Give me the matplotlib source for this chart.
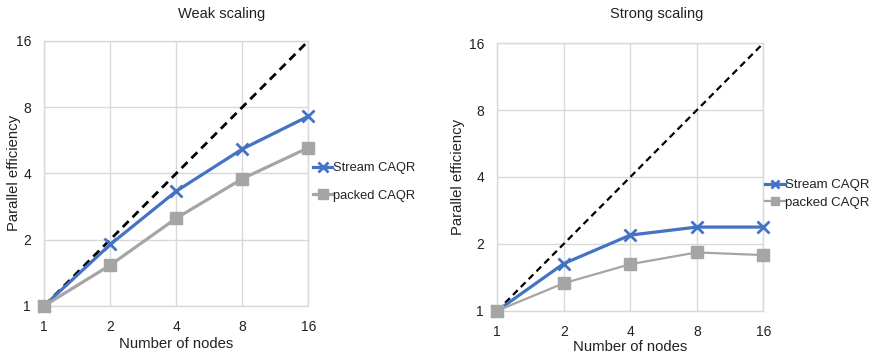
import matplotlib
matplotlib.use("Agg")
import matplotlib.pyplot as plt
from matplotlib.ticker import FixedLocator, NullLocator

plt.rcParams['font.family'] = ['Liberation Sans', 'DejaVu Sans']

nodes = [1, 2, 4, 8, 16]
ideal = [1, 2, 4, 8, 16]
weak_stream = [1.0, 1.9, 3.32, 5.16, 7.27]
weak_packed = [1.0, 1.53, 2.5, 3.78, 5.23]
strong_stream = [1.0, 1.63, 2.19, 2.38, 2.38]
strong_packed = [1.0, 1.33, 1.62, 1.83, 1.78]
tick_vals = [1, 2, 4, 8, 16]
tick_labels = ['1', '2', '4', '8', '16']
titles = ['Weak scaling', 'Strong scaling']
series_names = ['Stream CAQR', 'packed CAQR']

W, H = 871, 356
fig = plt.figure(figsize=(W / 100, H / 100), dpi=100)

BLUE = '#4472C4'
GRAY = '#A5A5A5'
GRID = '#D9D9D9'
TXT = '#222222'

def px_axes(x0, y0, x1, y1):
    return fig.add_axes([x0 / W, 1 - y1 / H, (x1 - x0) / W, (y1 - y0) / H])

specs = [
    dict(rect=(44.3, 41.0, 308.3, 305.7), stream=weak_stream, packed=weak_packed,
         lw_s=2.3, lw_p=2.3, ms=9, title_x=222, leg=(313, 182), ylab_x=13.5, xlab_y=344,
         dash_lw=2.0, leg_fs=9.3, leg_sp=1.2),
    dict(rect=(497.3, 43.3, 763.3, 310.7), stream=strong_stream, packed=strong_packed,
         lw_s=2.3, lw_p=1.6, ms=8, title_x=657, leg=(765, 194), ylab_x=458, xlab_y=347,
         dash_lw=1.6, leg_fs=9.5, leg_sp=0.38),
]

for i, s in enumerate(specs):
    ax = px_axes(*s['rect'])
    x0, y0, x1, y1 = s['rect']
    ax.set_xscale('log', base=2)
    ax.set_yscale('log', base=2)
    ax.set_xlim(1, 16)
    ax.set_ylim(1, 16)
    ax.plot(nodes, ideal, color='black', lw=s['dash_lw'], ls=(0, (3, 2)), zorder=3)
    ls, = ax.plot(nodes, s['stream'], color=BLUE, lw=s['lw_s'], marker='x', ms=s['ms'],
                  mew=2.0, zorder=4, clip_on=False, label=series_names[0])
    lp, = ax.plot(nodes, s['packed'], color=GRAY, lw=s['lw_p'], marker='s', ms=s['ms'],
                  zorder=4, clip_on=False, label=series_names[1])
    ax.xaxis.set_major_locator(FixedLocator(tick_vals))
    ax.yaxis.set_major_locator(FixedLocator(tick_vals))
    ax.xaxis.set_minor_locator(NullLocator())
    ax.yaxis.set_minor_locator(NullLocator())
    ax.set_xticklabels(tick_labels)
    ax.set_yticklabels(tick_labels)
    ax.tick_params(length=0, labelsize=10, colors=TXT, pad=10)
    ax.tick_params(axis='y', pad=9.5)
    ax.grid(True, color=GRID, lw=1.0)
    for sp in ax.spines.values():
        sp.set_color(GRID)
        sp.set_linewidth(1.0)
    ax.set_axisbelow(True)
    ax.set_xlabel('Number of nodes', fontsize=10.7, color=TXT)
    ax.xaxis.set_label_coords(0.5, -(s['xlab_y'] - y1) / (y1 - y0))
    ax.xaxis.label.set_va('center')
    ax.set_ylabel('Parallel efficiency', fontsize=10.7, color=TXT)
    ax.yaxis.set_label_coords((s['ylab_x'] - x0) / (x1 - x0), 0.5)
    ax.yaxis.label.set_va('center')
    fig.text(s['title_x'] / W, 1 - 14 / H, titles[i], ha='center', va='center',
             fontsize=10.5, color=TXT)
    lx, ly = s['leg']
    fig.legend(handles=[ls, lp], loc='center left',
               bbox_to_anchor=(lx / W, 1 - ly / H), frameon=False,
               fontsize=s['leg_fs'], handlelength=1.5, handletextpad=0.05,
               labelspacing=s['leg_sp'], borderaxespad=0, borderpad=0,
               labelcolor=TXT, markerscale=0.8)

fig.savefig('out.png', dpi=100)
